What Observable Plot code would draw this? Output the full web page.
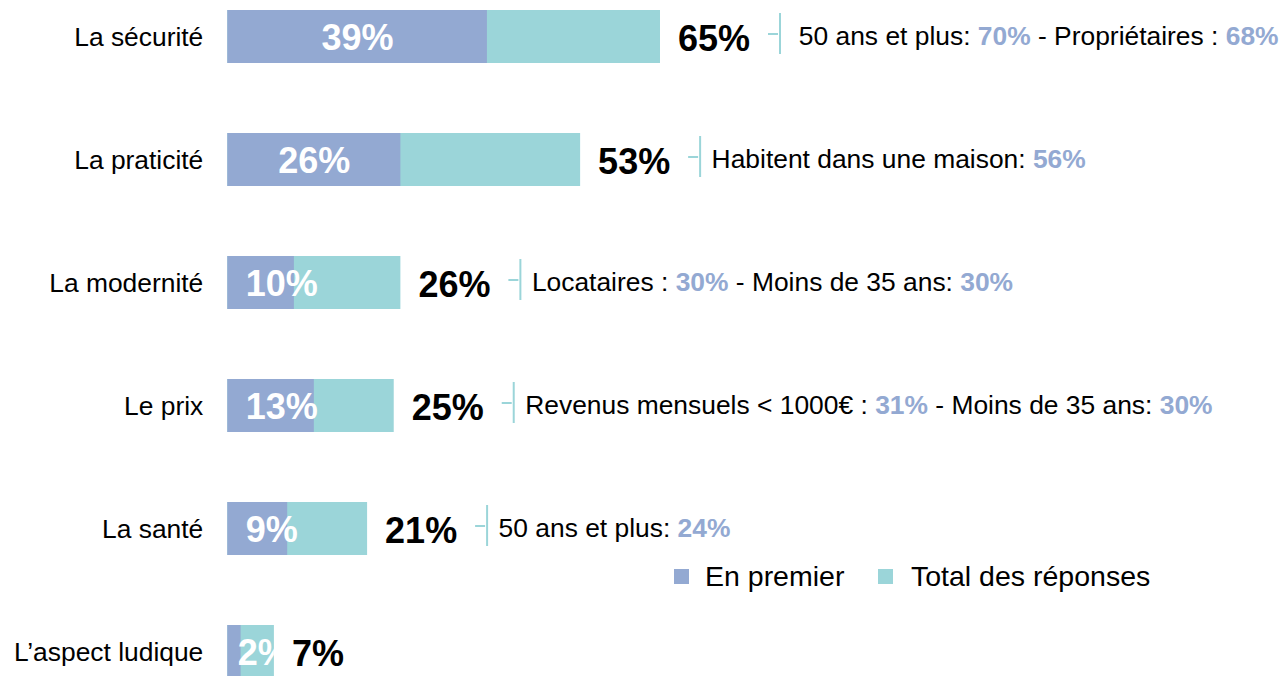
<!DOCTYPE html>
<html>
<head>
<meta charset="utf-8">
<script src="https://cdn.jsdelivr.net/npm/d3@7"></script>
<script src="https://cdn.jsdelivr.net/npm/@observablehq/plot@0.6"></script>
<style>
  body { margin: 0; background: #fff; font-family: "Liberation Sans", Arial, sans-serif; }
  #wrap { position: relative; width: 1282px; height: 676px; overflow: hidden; }
  .leg-sw { position: absolute; width: 15px; height: 15px; top: 569px; }
  .leg-tx { position: absolute; top: 557px; font-size: 28.5px; line-height: 38px; color: #000; white-space: nowrap; }
</style>
</head>
<body>
<div id="wrap"></div>
<script>
const categories = ["La sécurité", "La praticité", "La modernité", "Le prix", "La santé", "L’aspect ludique"];
const enPremier = [39, 26, 10, 13, 9, 2];
const totalReponses = [65, 53, 26, 25, 21, 7];
const annotations = [
  "\u00a050 ans et plus: **70%** - Propriétaires : **68%**",
  "Habitent dans une maison: **56%**",
  "Locataires : **30%** - Moins de 35 ans: **30%**",
  "Revenus mensuels < 1000€ : **31%** - Moins de 35 ans: **30%**",
  "50 ans et plus: **24%**",
  ""
];
const seriesNames = ["En premier", "Total des réponses"];
const seriesColors = ["#93a9d2", "#9bd5d9"];

const rows = categories.map((c, i) => ({cat: c, first: enPremier[i], total: totalReponses[i], note: annotations[i]}));

const x0 = 227.3, x65 = 660;
const k = (x65 - x0) / 65; // px per percentage point
const labelW = v => 36 * (0.556 * String(v).length + 0.889);
const innerX = v => Math.max(v / 2, (Math.min(18, 5 * v) + labelW(v) / 2) / k);

const chart = Plot.plot({
  width: 1282,
  height: 676,
  margin: 0,
  x: {domain: [0, 65], range: [x0, x65], axis: null},
  y: {domain: categories, range: [-26.2, 714.2], paddingInner: 0.57, paddingOuter: 0.285, axis: null},
  style: {fontFamily: "'Liberation Sans', Arial, sans-serif", background: "#fff"},
  marks: [
    Plot.barX(rows, {y: "cat", x1: 0, x2: "total", fill: seriesColors[1]}),
    Plot.barX(rows, {y: "cat", x1: 0, x2: "first", fill: seriesColors[0]}),
    Plot.text(rows, {y: "cat", x: d => innerX(d.first), text: d => d.first + "%", fill: "white", fontWeight: "bold", fontSize: 36, textAnchor: "middle", dy: 1}),
    Plot.text(rows, {y: "cat", x: "total", text: d => d.total + "%", fill: "black", fontWeight: "bold", fontSize: 36, textAnchor: "start", dx: 17.5, dy: 2}),
    Plot.text(rows, {y: "cat", x: 0, text: "cat", fill: "black", fontSize: 26.4, textAnchor: "end", dx: -24.5, dy: 1}),
    Plot.ruleY(rows.filter(d => d.note), {y: "cat", x1: d => d.total + 108 / k, x2: d => d.total + 118 / k, dy: -3, stroke: seriesColors[1], strokeWidth: 2}),
    Plot.tickX(rows.filter(d => d.note), {x: d => d.total + 119.5 / k, y: "cat", insetTop: 6, insetBottom: 6, dy: -3, stroke: seriesColors[1], strokeWidth: 2}),
    Plot.text(rows.filter(d => d.note), {y: "cat", x: d => d.total + 131 / k, text: "note", fill: "black", fontSize: 26.4, textAnchor: "start", dy: 0})
  ]
});

// Rich text: highlighted values in bold blue
d3.select(chart).selectAll("text").each(function() {
  const t = this.textContent;
  if (!t.includes("**")) return;
  const sel = d3.select(this);
  sel.text(null);
  t.split("**").forEach((part, i) => {
    const ts = sel.append("tspan").text(part);
    if (i % 2 === 1) ts.attr("font-weight", "bold").attr("fill", seriesColors[0]);
  });
});

// Clip inner (white) labels to the bars, as in the original
const barGroups = chart.querySelectorAll(":scope > g[aria-label='bar']");
const textGroups = chart.querySelectorAll(":scope > g[aria-label='text']");
if (barGroups.length && textGroups.length) {
  const svgNS = "http://www.w3.org/2000/svg";
  let defs = chart.querySelector("defs");
  if (!defs) { defs = document.createElementNS(svgNS, "defs"); chart.insertBefore(defs, chart.firstChild); }
  const cp = document.createElementNS(svgNS, "clipPath");
  cp.setAttribute("id", "barclip");
  const tg = barGroups[0].getAttribute("transform");
  barGroups[0].querySelectorAll("rect").forEach(r => {
    const c = r.cloneNode(false);
    c.removeAttribute("fill");
    if (tg) c.setAttribute("transform", tg);
    cp.appendChild(c);
  });
  defs.appendChild(cp);
  const inner = textGroups[0];
  const itg = inner.getAttribute("transform");
  const wrapG = document.createElementNS(svgNS, "g");
  wrapG.setAttribute("clip-path", "url(#barclip)");
  inner.parentNode.insertBefore(wrapG, inner);
  wrapG.appendChild(inner);
  if (itg) { /* group transform kept on inner; clip applies in wrapper coords */ }
}

const wrap = document.getElementById("wrap");
wrap.appendChild(chart);

// Legend
const legendPos = [{sw: 673.5, tx: 705}, {sw: 877.5, tx: 911}];
seriesNames.forEach((name, i) => {
  const sw = document.createElement("div");
  sw.className = "leg-sw";
  sw.style.left = legendPos[i].sw + "px";
  sw.style.background = seriesColors[i];
  wrap.appendChild(sw);
  const tx = document.createElement("div");
  tx.className = "leg-tx";
  tx.style.left = legendPos[i].tx + "px";
  tx.textContent = name;
  wrap.appendChild(tx);
});
</script>
</body>
</html>
